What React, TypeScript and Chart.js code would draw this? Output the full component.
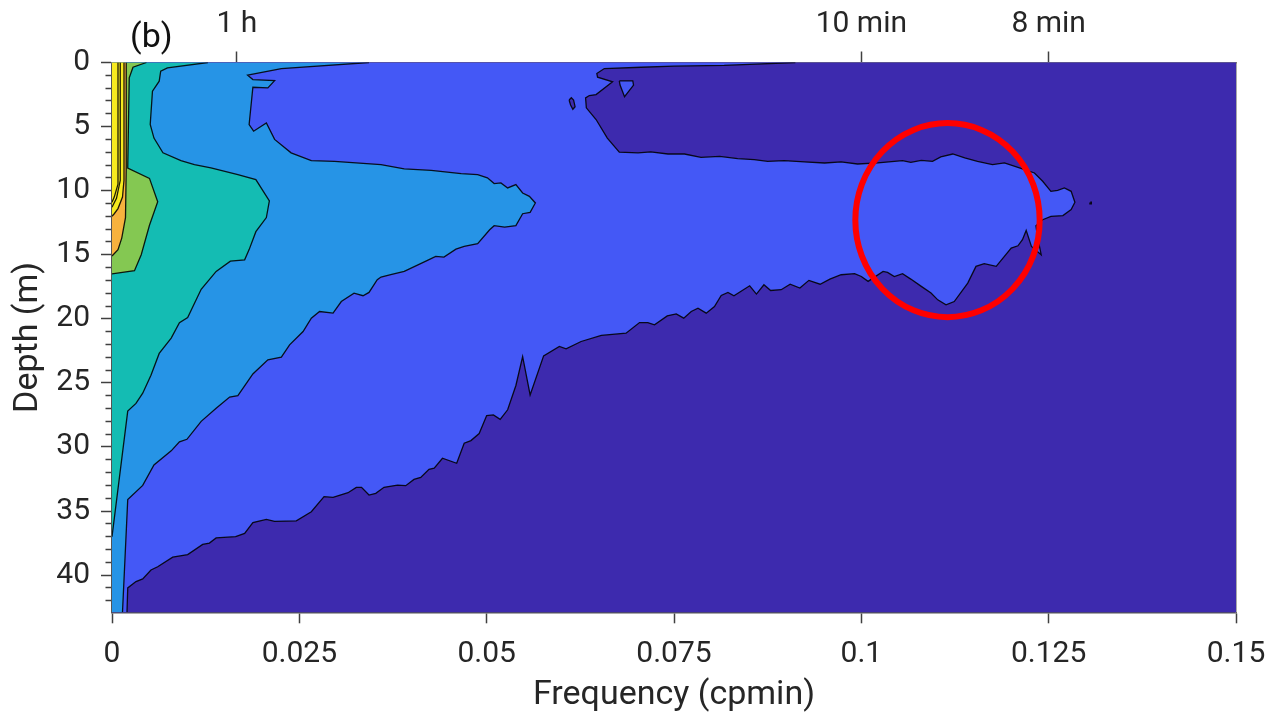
import { useEffect, useRef } from 'react';
import { Chart, registerables } from 'chart.js';

Chart.register(...registerables);

type Pt = [number, number];

// Axis limits
const FREQ_MAX = 0.15;
const DEPTH_MAX = 42.9;

// Bottom axis: frequency (cpmin)
const freqTicks = [0, 0.025, 0.05, 0.075, 0.1, 0.125, 0.15];
const freqTickLabels = ['0', '0.025', '0.05', '0.075', '0.1', '0.125', '0.15'];

// Top axis: equivalent periods
const periodTicks = [1 / 60, 0.1, 0.125];
const periodTickLabels = ['1 h', '10 min', '8 min'];

// Left axis: depth (m), minor ticks every metre, labels every 5 m
const depthTicks = [
  0, 1, 2, 3, 4, 5, 6, 7, 8, 9, 10, 11, 12, 13, 14, 15, 16, 17, 18, 19, 20, 21,
  22, 23, 24, 25, 26, 27, 28, 29, 30, 31, 32, 33, 34, 35, 36, 37, 38, 39, 40, 41, 42,
];

// Filled contour colours, lowest level first
const levelColors = ['#3d2aae', '#4458f6', '#2694e6', '#14bcb3', '#84c852', '#f7b23e', '#f7ea1f'];

// Contour: level 1 / level 2 boundary (frequency, depth)
const edgeLevel2: Pt[] = [
  [0.0912, 0], [0.0817, 0.23], [0.075, 0.29], [0.0706, 0.37], [0.0657, 0.47], [0.0647, 0.86],
  [0.0648, 1.15], [0.0668, 1.51], [0.0646, 2.5], [0.0637, 2.58], [0.0632, 2.76], [0.0633, 3.54],
  [0.0646, 4.45], [0.0661, 5.9], [0.0677, 7.0], [0.0702, 7.05], [0.0719, 6.98], [0.0742, 7.14],
  [0.0764, 7.14], [0.0786, 7.4], [0.0811, 7.32], [0.0835, 7.5], [0.0857, 7.58], [0.0875, 7.71],
  [0.0897, 7.66], [0.0924, 7.76], [0.0951, 7.84], [0.0973, 7.76], [0.0995, 7.92], [0.1022, 7.84],
  [0.1044, 7.71], [0.1055, 7.66], [0.1066, 7.79], [0.108, 7.63], [0.1095, 7.71], [0.1106, 7.37],
  [0.1122, 7.14], [0.1138, 7.45], [0.1155, 7.71], [0.1175, 7.97], [0.1191, 7.84], [0.1218, 8.36],
  [0.1231, 8.62], [0.1242, 9.27], [0.1253, 10.05], [0.1262, 9.97], [0.1271, 9.79], [0.128, 10.05],
  [0.1285, 10.91], [0.128, 11.48], [0.1269, 11.95], [0.1253, 12.0], [0.1242, 12.27], [0.1233, 12.73],
  [0.1235, 13.57], [0.124, 15.0], [0.1227, 14.35], [0.122, 13.1], [0.1215, 13.83], [0.1209, 14.3],
  [0.12, 14.48], [0.118, 15.91], [0.1164, 15.7], [0.1153, 15.91], [0.1142, 17.21], [0.1124, 18.65],
  [0.1113, 18.91], [0.1102, 18.52], [0.1093, 17.99], [0.108, 17.47], [0.1066, 16.9], [0.1055, 16.48],
  [0.1044, 16.7], [0.1035, 16.38], [0.1029, 16.3], [0.1009, 17.08], [0.1, 16.7], [0.0991, 16.48],
  [0.0973, 16.56], [0.0958, 16.9], [0.0945, 17.3], [0.093, 17.0], [0.0918, 17.6], [0.0905, 17.3],
  [0.0893, 17.73], [0.0879, 17.79], [0.087, 17.34], [0.086, 18.07], [0.0851, 17.42], [0.083, 18.2],
  [0.0822, 17.94], [0.0813, 18.18], [0.0804, 19.04], [0.0793, 19.56], [0.0782, 19.17], [0.0773, 19.43],
  [0.0763, 19.95], [0.0753, 19.61], [0.0741, 19.77], [0.0724, 20.47], [0.0715, 20.29], [0.0704, 20.29],
  [0.0686, 21.12], [0.0653, 21.3], [0.0626, 21.77], [0.0606, 22.34], [0.0597, 22.16], [0.0576, 22.89],
  [0.0558, 25.94], [0.0548, 22.94], [0.0539, 25.2], [0.0528, 27.1], [0.0518, 27.84], [0.0509, 27.5],
  [0.05, 27.55], [0.049, 28.95], [0.0479, 29.5], [0.047, 29.71], [0.046, 31.27], [0.0441, 30.88],
  [0.043, 31.66], [0.0423, 31.74], [0.0412, 32.37], [0.0403, 32.53], [0.0392, 33.02], [0.0381, 32.97],
  [0.0363, 33.15], [0.0352, 33.62], [0.0343, 33.75], [0.0333, 33.15], [0.0326, 33.15], [0.0315, 33.57],
  [0.0295, 33.93], [0.0283, 33.88], [0.0266, 35.05], [0.0246, 35.76], [0.0217, 35.8], [0.0206, 35.65],
  [0.0188, 35.9], [0.0177, 36.74], [0.0165, 37.0], [0.0139, 37.1], [0.013, 37.5], [0.0121, 37.6],
  [0.0101, 38.4], [0.0081, 38.6], [0.0061, 39.35], [0.0052, 39.6], [0.0041, 40.3], [0.0032, 40.5],
  [0.0021, 41.0], [0.002, 42.9],
];

// Small closed contours around the level 1 / level 2 boundary
const holeLevel2: Pt[] = [
  [0.0677, 1.44], [0.0695, 1.44], [0.0696, 1.76], [0.0684, 2.67], [0.0678, 1.76], [0.0677, 1.44],
];
const islandLevel1: Pt[] = [
  [0.061, 2.93], [0.0613, 2.75], [0.0616, 2.93], [0.0618, 3.45], [0.0615, 3.65], [0.0612, 3.32], [0.061, 2.93],
];
const specLevel2: Pt[] = [
  [0.13055, 10.92], [0.13065, 10.92], [0.13065, 11.0], [0.13055, 11.0], [0.13055, 10.92],
];

// Contour: level 2 / level 3 boundary
const edgeLevel3: Pt[] = [
  [0.0343, 0], [0.0226, 0.47], [0.0181, 0.99], [0.0188, 1.33], [0.0217, 1.41], [0.0208, 1.98],
  [0.0188, 1.93], [0.0183, 4.84], [0.0189, 5.36], [0.0206, 4.71], [0.0217, 6.0], [0.0239, 7.05],
  [0.0266, 7.66], [0.0297, 7.71], [0.0359, 7.97], [0.039, 8.3], [0.0426, 8.41], [0.0466, 8.67],
  [0.0488, 8.75], [0.0501, 9.0], [0.051, 9.45], [0.0519, 9.4], [0.0528, 9.79], [0.0539, 9.53],
  [0.0548, 10.18], [0.0557, 10.44], [0.0565, 10.96], [0.0558, 11.69], [0.0548, 11.8], [0.0539, 12.73],
  [0.0524, 12.84], [0.051, 12.73], [0.0504, 13.05], [0.0488, 14.14], [0.047, 14.35], [0.0459, 14.56],
  [0.0443, 15.18], [0.0432, 15.13], [0.0421, 15.44], [0.039, 16.3], [0.0372, 16.56], [0.0359, 16.74],
  [0.0354, 16.95], [0.0343, 17.94], [0.0335, 18.2], [0.0323, 18.0], [0.0306, 18.65], [0.0295, 19.56],
  [0.0277, 19.43], [0.0266, 19.95], [0.0255, 20.99], [0.0237, 22.03], [0.0226, 22.99], [0.0208, 23.2],
  [0.0188, 24.3], [0.0168, 26.0], [0.0157, 26.1], [0.0139, 26.98], [0.0119, 28.0], [0.01, 29.4],
  [0.009, 29.6], [0.0079, 30.3], [0.0056, 31.4], [0.0041, 33.0], [0.0021, 34.1], [0.0014, 42.9],
];

// Contour: level 3 / level 4 boundary
const edgeLevel4: Pt[] = [
  [0.0128, 0], [0.0074, 0.42], [0.0065, 0.68], [0.0063, 1.46], [0.0054, 2.24], [0.0051, 4.84],
  [0.0056, 5.9], [0.0068, 7.05], [0.0092, 7.66], [0.011, 7.97], [0.0132, 8.23], [0.0168, 8.75],
  [0.0192, 9.14], [0.021, 10.8], [0.0206, 12.1], [0.0192, 13.2], [0.0183, 14.6], [0.0177, 15.4],
  [0.0158, 15.5], [0.0139, 16.3], [0.0119, 17.7], [0.0101, 19.9], [0.009, 20.3], [0.0079, 21.5],
  [0.0063, 22.7], [0.0052, 24.4], [0.0041, 25.8], [0.0032, 26.6], [0.0021, 27.2], [0, 37.0],
];

// Contour: level 4 / level 5 boundary
const edgeLevel5: Pt[] = [
  [0.0046, 0], [0.0028, 0.37], [0.0023, 1.2], [0.0021, 8.24], [0.005, 9.04], [0.0061, 10.87],
  [0.005, 12.7], [0.0039, 15.0], [0.003, 16.25], [0, 16.5],
];

// Contour: level 5 / level 6 boundary
const edgeLevel6: Pt[] = [
  [0.0019, 0], [0.0019, 8.2], [0.0018, 12.1], [0.0013, 13.7], [0.0008, 14.6], [0, 15.1],
];

// Contours: level 6 / level 7 and the two levels above it
const edgeLevel7: Pt[] = [
  [0.0016, 0], [0.0016, 9.2], [0.0014, 10.5], [0.0008, 11.4], [0.0003, 11.8], [0, 12.0],
];
const edgeLevel8: Pt[] = [
  [0.0011, 0], [0.0011, 9.2], [0.0006, 10.6], [0, 11.3],
];
const edgeLevel9: Pt[] = [
  [0.0008, 0], [0.0008, 9.5], [0.0003, 10.5], [0, 10.9],
];

// Highlight ellipse (frequency, depth centre and half-axes)
const ringCenter: Pt = [0.1115, 12.3];
const ringHalfAxes: Pt = [0.0123, 7.57];

// Layout of the plotting box inside the 1268 x 718 canvas
const CANVAS_W = 1268;
const CANVAS_H = 718;
const PLOT_LEFT = 112;
const PLOT_RIGHT = 1236;
const PLOT_TOP = 62.5;
const PLOT_BOTTOM = 612.3;

const FONT = 'Roboto, "Noto Sans", "DejaVu Sans", sans-serif';
const TEXT = '#262626';
const GRID = 'rgba(0,0,0,0.14)';
const TICK = '#404040';
const AXIS = '#555555';
const AXIS_LIGHT = '#7a7a7a';
const LINE = 'rgba(0,0,0,0.88)';

const toXY = (pts: Pt[]) => pts.map(([x, y]) => ({ x, y }));

// Region above/left of a contour that starts on the top edge
const regionFromTopLeft = (edge: Pt[], reachesBottom: boolean) => {
  const pts: Pt[] = [[0, 0], ...edge];
  if (reachesBottom) pts.push([0, DEPTH_MAX]);
  return toXY(pts);
};

// Keep the plotting box fixed: no extra room for overhanging edge labels
const noOverhang = (s: any) => {
  s.paddingLeft = 0;
  s.paddingRight = 0;
  s.paddingTop = 0;
  s.paddingBottom = 0;
};

export default function App() {
  const canvasRef = useRef<HTMLCanvasElement>(null);

  useEffect(() => {
    const canvas = canvasRef.current;
    if (!canvas) return;

    const common = { xAxisID: 'x', yAxisID: 'y', pointRadius: 0, pointHitRadius: 0, tension: 0 };
    const fillSet = (data: any[], color: string, order: number) => ({
      ...common, data, backgroundColor: color, borderWidth: 0, fill: 'shape', order,
    });
    const lineSet = (data: any[], order: number, width = 1.3) => ({
      ...common, data, borderColor: LINE, borderWidth: width, fill: false, order,
    });

    const datasets: any[] = [
      fillSet(regionFromTopLeft(edgeLevel2, true), levelColors[1], 100),
      fillSet(toXY(holeLevel2), levelColors[1], 99),
      fillSet(toXY(islandLevel1), levelColors[0], 98),
      fillSet(regionFromTopLeft(edgeLevel3, true), levelColors[2], 96),
      fillSet(regionFromTopLeft(edgeLevel4, false), levelColors[3], 95),
      fillSet(regionFromTopLeft(edgeLevel5, false), levelColors[4], 94),
      fillSet(regionFromTopLeft(edgeLevel6, false), levelColors[5], 93),
      fillSet(regionFromTopLeft(edgeLevel7, false), levelColors[6], 92),
      lineSet(toXY(edgeLevel2), 12),
      lineSet(toXY(holeLevel2), 11),
      lineSet(toXY(islandLevel1), 10),
      lineSet(toXY(specLevel2), 9, 2),
      lineSet(toXY(edgeLevel3), 8),
      lineSet(toXY(edgeLevel4), 7),
      lineSet(toXY(edgeLevel5), 6),
      lineSet(toXY(edgeLevel6), 5),
      lineSet(toXY(edgeLevel7), 4),
      lineSet(toXY(edgeLevel8), 3),
      lineSet(toXY(edgeLevel9), 2),
    ];

    const plotBackground = {
      id: 'plotBackground',
      beforeDatasetsDraw(chart: any) {
        const { ctx, chartArea: a } = chart;
        ctx.save();
        ctx.fillStyle = levelColors[0];
        ctx.fillRect(a.left, a.top, a.right - a.left, a.bottom - a.top);
        ctx.restore();
      },
    };

    const annotations = {
      id: 'annotations',
      afterDraw(chart: any) {
        const { ctx } = chart;
        const xs = chart.scales.x;
        const ys = chart.scales.y;
        const cx = xs.getPixelForValue(ringCenter[0]);
        const cy = ys.getPixelForValue(ringCenter[1]);
        const rx = Math.abs(xs.getPixelForValue(ringCenter[0] + ringHalfAxes[0]) - cx);
        const ry = Math.abs(ys.getPixelForValue(ringCenter[1] + ringHalfAxes[1]) - cy);
        ctx.save();
        ctx.beginPath();
        ctx.ellipse(cx, cy, rx, ry, 0, 0, Math.PI * 2);
        ctx.strokeStyle = '#ff0000';
        ctx.lineWidth = 6;
        ctx.stroke();
        ctx.fillStyle = '#111111';
        ctx.font = `34px ${FONT}`;
        ctx.textAlign = 'left';
        ctx.textBaseline = 'alphabetic';
        ctx.fillText('(b)', 130, 46.5);
        ctx.restore();
      },
    };

    const tickFont = { family: FONT, size: 30 };
    const titleFont = { family: FONT, size: 34 };

    const chart = new Chart(canvas, {
      type: 'line',
      data: { datasets },
      options: {
        animation: false,
        responsive: false,
        events: [],
        layout: { padding: { left: 0, top: 0, right: CANVAS_W - PLOT_RIGHT, bottom: 0 } },
        plugins: { legend: { display: false }, tooltip: { enabled: false }, title: { display: false } },
        scales: {
          x: {
            type: 'linear',
            position: 'bottom',
            min: 0,
            max: FREQ_MAX,
            z: 1,
            afterBuildTicks: (s: any) => { s.ticks = freqTicks.map((v) => ({ value: v })); },
            afterFit: (s: any) => { s.height = CANVAS_H - PLOT_BOTTOM; noOverhang(s); },
            ticks: {
              autoSkip: false, maxRotation: 0, padding: 13, color: TEXT, font: tickFont,
              callback: (_v: any, i: number) => freqTickLabels[i],
            },
            grid: { color: GRID, lineWidth: 1, tickLength: 11, tickColor: TICK, tickWidth: 1.5 },
            border: { color: AXIS, width: 1.5 },
            title: {
              display: true, text: 'Frequency (cpmin)', color: TEXT, font: titleFont,
              padding: { top: 0, bottom: 2 },
            },
          },
          y: {
            type: 'linear',
            position: 'left',
            reverse: true,
            min: 0,
            max: DEPTH_MAX,
            z: 1,
            afterBuildTicks: (s: any) => { s.ticks = depthTicks.map((v) => ({ value: v })); },
            afterFit: (s: any) => { s.width = PLOT_LEFT; noOverhang(s); },
            ticks: {
              autoSkip: false, padding: 11, color: TEXT, font: tickFont,
              callback: (v: any) => (Number(v) % 5 === 0 ? String(v) : ''),
            },
            grid: {
              color: (c: any) => (c.tick && c.tick.value % 5 === 0 ? GRID : 'rgba(0,0,0,0)'),
              lineWidth: 1,
              tickLength: 11,
              tickColor: TICK,
              tickWidth: 1.5,
              tickBorderDash: (c: any) => (c.tick && c.tick.value % 5 === 0 ? [] : [0, 4.5, 6.5, 20]),
            },
            border: { color: AXIS, width: 1.5 },
            title: {
              display: true, text: 'Depth (m)', color: TEXT, font: titleFont,
              padding: { top: 8, bottom: 0 },
            },
          },
          x2: {
            type: 'linear',
            axis: 'x',
            position: 'top',
            min: 0,
            max: FREQ_MAX,
            z: 1,
            afterBuildTicks: (s: any) => { s.ticks = periodTicks.map((v) => ({ value: v })); },
            afterFit: (s: any) => { s.height = PLOT_TOP; noOverhang(s); },
            ticks: {
              autoSkip: false, maxRotation: 0, padding: 9.5, color: TEXT, font: tickFont,
              callback: (_v: any, i: number) => periodTickLabels[i],
            },
            grid: { drawOnChartArea: false, tickLength: 11, tickColor: TICK, tickWidth: 1.5 },
            border: { color: AXIS_LIGHT, width: 1.5 },
          },
          yR: {
            type: 'linear',
            axis: 'y',
            position: 'right',
            reverse: true,
            min: 0,
            max: DEPTH_MAX,
            z: 1,
            afterFit: (s: any) => { s.width = 0; noOverhang(s); },
            ticks: { display: false },
            grid: { drawOnChartArea: false, drawTicks: false },
            border: { color: AXIS_LIGHT, width: 1.5 },
          },
        },
      } as any,
      plugins: [plotBackground, annotations],
    });

    return () => chart.destroy();
  }, []);

  return (
    <div style={{ position: 'fixed', left: 0, top: 0, width: CANVAS_W, height: CANVAS_H, background: '#ffffff' }}>
      <canvas ref={canvasRef} width={CANVAS_W} height={CANVAS_H} style={{ display: 'block' }} />
    </div>
  );
}
